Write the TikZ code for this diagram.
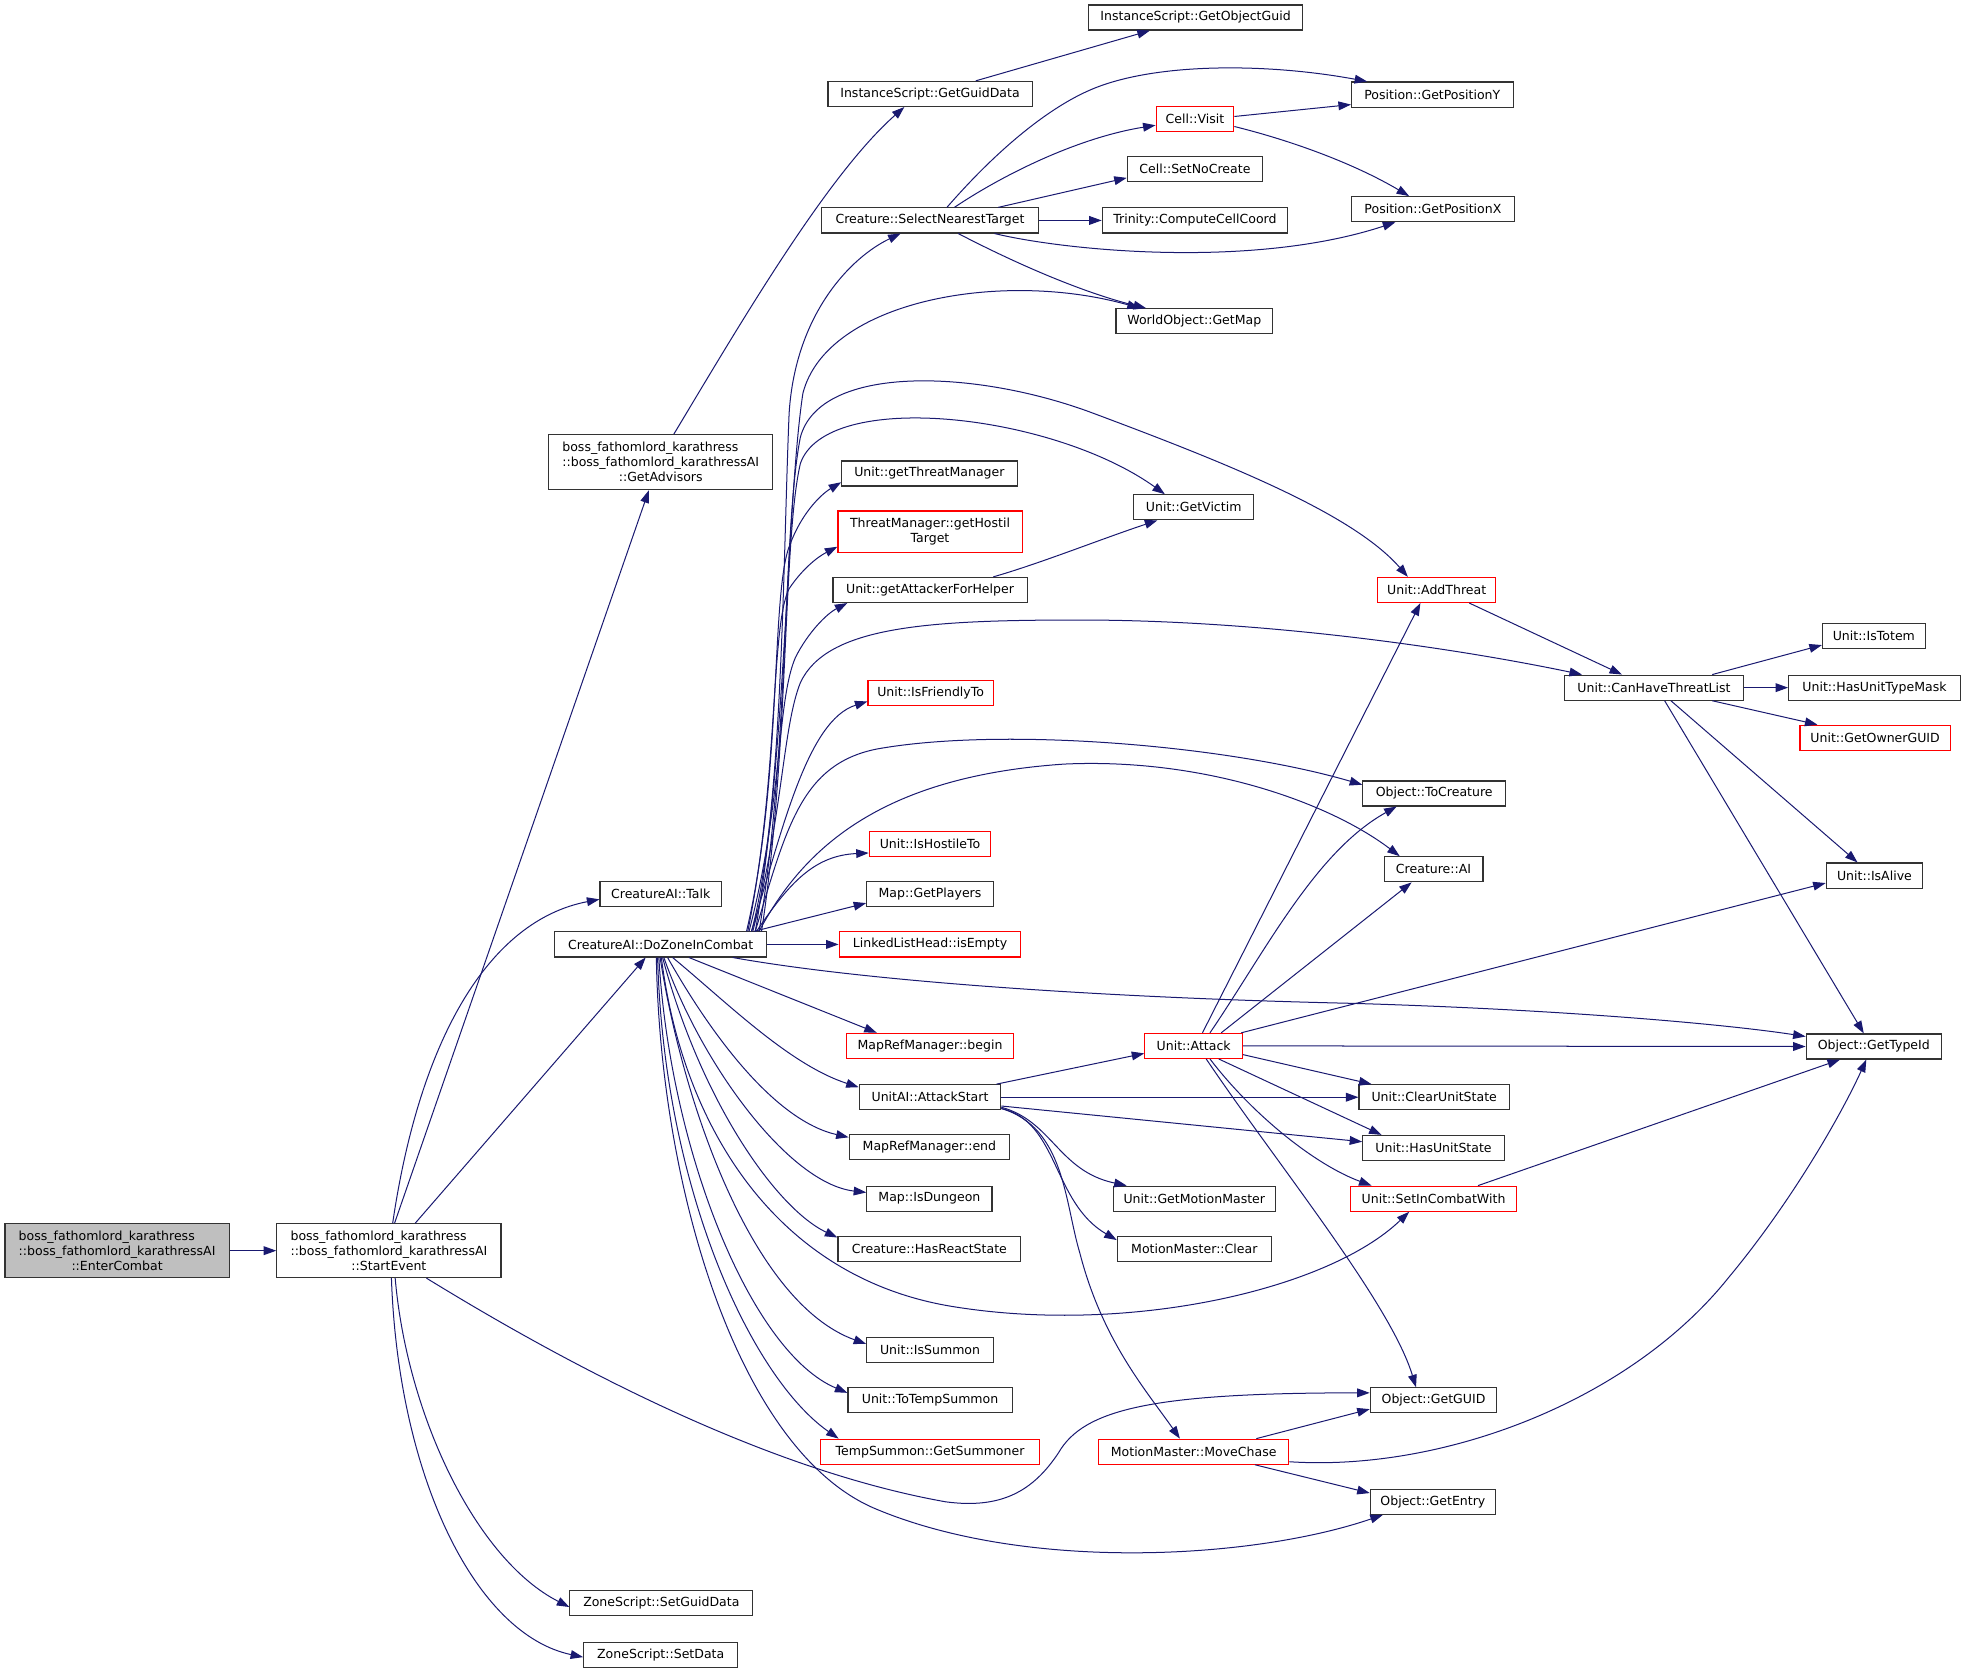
\documentclass[tikz,border=0pt]{standalone}
\usepackage{fontspec}
\setmainfont{DejaVu Sans}
\usetikzlibrary{arrows.meta}
\definecolor{edgec}{HTML}{191970}
\definecolor{redc}{HTML}{FF0000}
\definecolor{grayfill}{HTML}{BFBFBF}
\newcommand\bossfirst{\setbox0=\hbox{::boss\_fathomlord\_karathressAI}\makebox[\wd0][l]{boss\_fathomlord\_karathress}}
\tikzset{
  box/.style={draw=black!80, line width=0.9pt, fill=white, inner sep=0pt, minimum height=20pt, font=\fontsize{10}{12}\selectfont, align=center},
  redbox/.style={box, draw=redc},
  edge/.style={draw=edgec, line width=0.8pt, -{Triangle[length=10pt,width=7pt]}},
}
\begin{document}
\begin{tikzpicture}[x=1pt,y=-1pt]
\useasboundingbox (0,0) rectangle (1568,1337);
% column 1-2
\node[box,fill=grayfill,minimum width=179pt,minimum height=43pt] (ec) at (93.5,998.5) {\bossfirst\\::boss\_fathomlord\_karathressAI\\::EnterCombat};
\node[box,minimum width=179pt,minimum height=43pt] (se) at (310.5,998.5) {\bossfirst\\::boss\_fathomlord\_karathressAI\\::StartEvent};
\node[box,minimum width=179pt,minimum height=44pt] (ga) at (527.5,369) {\bossfirst\\::boss\_fathomlord\_karathressAI\\::GetAdvisors};
\node[box,minimum width=97pt] (talk) at (527.5,714) {CreatureAI::Talk};
\node[box,minimum width=169pt] (dz) at (527.5,754) {CreatureAI::DoZoneInCombat};
\node[box,minimum width=146pt] (zsg) at (528,1280) {ZoneScript::SetGuidData};
\node[box,minimum width=123pt] (zsd) at (527.5,1321) {ZoneScript::SetData};
% column 3
\node[box,minimum width=163pt] (igd) at (742.5,75) {InstanceScript::GetGuidData};
\node[box,minimum width=173pt] (snt) at (742.5,176) {Creature::SelectNearestTarget};
\node[box,minimum width=140pt] (gtm) at (742,378) {Unit::getThreatManager};
\node[redbox,minimum width=147pt,minimum height=33pt] (ght) at (742.5,424.5) {ThreatManager::getHostil\\Target};
\node[box,minimum width=155pt] (gafh) at (742.5,471) {Unit::getAttackerForHelper};
\node[redbox,minimum width=100pt] (ift) at (743,553) {Unit::IsFriendlyTo};
\node[redbox,minimum width=97pt] (iht) at (742.5,674) {Unit::IsHostileTo};
\node[box,minimum width=101pt] (gp) at (742.5,714) {Map::GetPlayers};
\node[redbox,minimum width=145pt] (lie) at (742.5,754) {LinkedListHead::isEmpty};
\node[redbox,minimum width=133pt] (mrb) at (742.5,835) {MapRefManager::begin};
\node[box,minimum width=113pt] (ats) at (742.5,876) {UnitAI::AttackStart};
\node[box,minimum width=128pt] (mre) at (742,916) {MapRefManager::end};
\node[box,minimum width=100pt] (idg) at (742,957) {Map::IsDungeon};
\node[box,minimum width=146pt] (hrs) at (742,997) {Creature::HasReactState};
\node[box,minimum width=101pt] (isu) at (742.5,1078) {Unit::IsSummon};
\node[box,minimum width=131pt] (tts) at (742.5,1118) {Unit::ToTempSummon};
\node[redbox,minimum width=175pt] (gsu) at (742.5,1159) {TempSummon::GetSummoner};
% column 4
\node[box,minimum width=171pt] (iog) at (954.5,14) {InstanceScript::GetObjectGuid};
\node[redbox,minimum width=62pt] (cv) at (954,95) {Cell::Visit};
\node[box,minimum width=108pt] (snc) at (954,135) {Cell::SetNoCreate};
\node[box,minimum width=148pt] (ccc) at (954,176) {Trinity::ComputeCellCoord};
\node[box,minimum width=125pt] (gm) at (953.5,256.5) {WorldObject::GetMap};
\node[box,minimum width=96pt] (gv) at (953,405) {Unit::GetVictim};
\node[redbox,minimum width=78pt] (att) at (953,835) {Unit::Attack};
\node[box,minimum width=129pt] (gmm) at (953.5,957) {Unit::GetMotionMaster};
\node[box,minimum width=123pt] (mmc) at (953.5,997) {MotionMaster::Clear};
\node[redbox,minimum width=152pt] (mch) at (953,1159) {MotionMaster::MoveChase};
% column 5
\node[box,minimum width=129pt] (gpy) at (1143.5,75.5) {Position::GetPositionY};
\node[box,minimum width=130pt] (gpx) at (1144,167) {Position::GetPositionX};
\node[redbox,minimum width=94pt] (adt) at (1147,471) {Unit::AddThreat};
\node[box,minimum width=114pt] (toc) at (1145,633.5) {Object::ToCreature};
\node[box,minimum width=79pt] (cai) at (1144.5,694) {Creature::AI};
\node[box,minimum width=120pt] (cus) at (1145,876) {Unit::ClearUnitState};
\node[box,minimum width=113pt] (hus) at (1144.5,916.5) {Unit::HasUnitState};
\node[redbox,minimum width=133pt] (icw) at (1144.5,957) {Unit::SetInCombatWith};
\node[box,minimum width=101pt] (gguid) at (1144.5,1118) {Object::GetGUID};
\node[box,minimum width=100pt] (gent) at (1144,1199) {Object::GetEntry};
% column 6-7
\node[box,minimum width=143pt] (chtl) at (1320.5,549) {Unit::CanHaveThreatList};
\node[box,minimum width=82pt] (ist) at (1496,508) {Unit::IsTotem};
\node[box,minimum width=137pt] (hutm) at (1496.5,549) {Unit::HasUnitTypeMask};
\node[redbox,minimum width=120pt] (gog) at (1497,589) {Unit::GetOwnerGUID};
\node[box,minimum width=77pt] (ial) at (1496.5,699) {Unit::IsAlive};
\node[box,minimum width=108pt] (gti) at (1496,835.5) {Object::GetTypeId};

% ---- edges ----
\draw[edge] (ec.east) -- (se.west);
\draw[edge] ([xshift=4.5pt]se.north) -- ([xshift=-9.5pt]ga.south);
\draw[edge] ([xshift=3pt]se.north) .. controls (335,830) and (390,735) .. ([yshift=-4pt]talk.west);
\draw[edge] ([xshift=21pt]se.north) -- ([xshift=-12pt]dz.south);
\draw[edge] ([xshift=5pt]se.south) .. controls (325,1130) and (380,1245) .. ([yshift=-3pt]zsg.west);
\draw[edge] ([xshift=2pt]se.south) .. controls (318,1180) and (380,1305) .. ([yshift=-2pt]zsd.west);
\draw[edge] ([xshift=30pt]se.south) .. controls (470,1100) and (620,1175) .. (755,1199) .. controls (800,1205) and (825,1190) .. (845,1160) .. controls (865,1125) and (920,1112) .. ([yshift=6pt]gguid.west);
\draw[edge] ([xshift=10.5pt]ga.north) .. controls (590,260) and (660,140) .. ([xshift=-20.5pt]igd.south);
\draw[edge] ([xshift=36.5pt]igd.north) -- ([xshift=-36.5pt]iog.south);
% SelectNearestTarget
\draw[edge] ([xshift=13.5pt]snt.north) .. controls (800,115) and (840,85) .. (870,72) .. controls (920,50) and (1010,50) .. ([xshift=-52pt]gpy.north);
\draw[edge] ([xshift=19.5pt]snt.north) .. controls (800,140) and (860,110) .. ([yshift=-5pt]cv.west);
\draw[edge] ([xshift=54.5pt]snt.north) -- ([yshift=-7pt]snc.west);
\draw[edge] (snt.east) -- (ccc.west);
\draw[edge] ([xshift=51.5pt]snt.south) .. controls (850,200) and (1000,215) .. ([xshift=-30pt]gpx.south);
\draw[edge] ([xshift=22.5pt]snt.south) .. controls (820,215) and (870,235) .. ([xshift=-38.5pt]gm.north);
\draw[edge] ([yshift=2pt]cv.east) -- ([yshift=-8pt]gpy.west);
\draw[edge] ([yshift=-6pt]cv.east) .. controls (1030,112) and (1080,130) .. ([xshift=-19pt]gpx.north);
% DoZoneInCombat upward
\draw[edge] ([xshift=72.5pt]dz.north) .. controls (625,650) and (625,450) .. (630,330) .. controls (635,250) and (680,205) .. ([xshift=-23.5pt]snt.south);
\draw[edge] ([xshift=75.5pt]dz.north) .. controls (628,600) and (628,400) .. (641,314) .. controls (660,240) and (800,215) .. ([xshift=-43.5pt]gm.north);
\draw[edge] ([xshift=78.5pt]dz.north) .. controls (630,600) and (625,420) .. (639,349) .. controls (655,290) and (780,295) .. (873,330) .. controls (980,370) and (1080,410) .. ([xshift=-23pt]adt.north);
\draw[edge] ([xshift=80.5pt]dz.north) .. controls (630,600) and (625,430) .. (639,370) .. controls (660,310) and (840,330) .. ([xshift=-23pt]gv.north);
\draw[edge] ([xshift=68.5pt]dz.north) .. controls (625,620) and (615,470) .. (631,434) .. controls (640,410) and (655,395) .. ([yshift=-7pt]gtm.west);
\draw[edge] ([xshift=69.5pt]dz.north) .. controls (622,620) and (615,500) .. (630,470) .. controls (640,455) and (652,445) .. ([yshift=-12pt]ght.west);
\draw[edge] ([xshift=70.5pt]dz.north) .. controls (625,640) and (620,560) .. (635,525) .. controls (645,505) and (660,490) .. ([xshift=-66pt]gafh.south);
\draw[edge] ([xshift=73.5pt]dz.north) .. controls (625,650) and (625,580) .. (639,545) .. controls (660,500) and (740,495) .. (862,495) .. controls (1000,495) and (1150,515) .. ([xshift=-57.5pt]chtl.north);
\draw[edge] ([xshift=72.5pt]dz.north) .. controls (625,660) and (645,575) .. ([yshift=-7pt]ift.west);
\draw[edge] ([xshift=75.5pt]dz.north) .. controls (628,660) and (640,610) .. (700,598) .. controls (800,580) and (980,595) .. ([yshift=7pt]toc.west);
\draw[edge] ([xshift=78.5pt]dz.north) .. controls (640,680) and (700,620) .. (850,610) .. controls (960,605) and (1060,640) .. ([xshift=-27pt]cai.north);
\draw[edge] ([xshift=76.5pt]dz.north) .. controls (630,705) and (650,683) .. ([yshift=-7pt]iht.west);
\draw[edge] ([xshift=74.5pt]dz.north) -- ([yshift=-7pt]gp.west);
\draw[edge] (dz.east) -- (lie.west);
% DoZoneInCombat downward
\draw[edge] ([xshift=57.5pt]dz.south) .. controls (700,785) and (900,797) .. (1078,801) .. controls (1250,806) and (1380,818) .. ([yshift=8pt]gti.west);
\draw[edge] ([xshift=22.5pt]dz.south) -- ([xshift=-42.5pt]mrb.north);
\draw[edge] ([xshift=9.5pt]dz.south) .. controls (580,800) and (630,850) .. ([yshift=8pt]ats.west);
\draw[edge] ([xshift=5.5pt]dz.south) .. controls (570,830) and (620,895) .. ([yshift=8pt]mre.west);
\draw[edge] ([xshift=2.5pt]dz.south) .. controls (560,850) and (630,945) .. ([yshift=5pt]idg.west);
\draw[edge] ([xshift=1.5pt]dz.south) .. controls (560,880) and (620,965) .. ([yshift=9pt]hrs.west);
\draw[edge] ([xshift=0.5pt]dz.south) .. controls (545,900) and (620,1020) .. (760,1043) .. controls (900,1066) and (1060,1030) .. ([xshift=-19.5pt]icw.south);
\draw[edge] ([xshift=-0.5pt]dz.south) .. controls (545,880) and (600,1040) .. ([yshift=5pt]isu.west);
\draw[edge] ([xshift=-1.5pt]dz.south) .. controls (535,920) and (600,1080) .. ([yshift=6pt]tts.west);
\draw[edge] ([xshift=-2.5pt]dz.south) .. controls (530,950) and (600,1100) .. ([xshift=-73pt]gsu.north);
\draw[edge] ([xshift=-3.5pt]dz.south) .. controls (527,950) and (590,1160) .. (700,1205) .. controls (820,1255) and (1000,1245) .. ([xshift=-40pt]gent.south);
% others
\draw[edge] ([xshift=50.5pt]gafh.north) .. controls (830,450) and (880,430) .. ([xshift=-29pt]gv.south);
\draw[edge] ([xshift=26pt]adt.south) -- ([xshift=-25.5pt]chtl.north);
\draw[edge] ([xshift=46.5pt]chtl.north) -- ([yshift=-7pt]ist.west);
\draw[edge] (chtl.east) -- (hutm.west);
\draw[edge] ([xshift=46.5pt]chtl.south) -- ([xshift=-46pt]gog.north);
\draw[edge] ([xshift=13.5pt]chtl.south) -- ([xshift=-13.5pt]ial.north);
\draw[edge] ([xshift=8.5pt]chtl.south) -- ([xshift=-8pt]gti.north);
% AttackStart
\draw[edge] ([xshift=53pt]ats.north) -- ([yshift=-6pt]att.west);
\draw[edge] (ats.east) -- (cus.west);
\draw[edge] ([yshift=-7pt]ats.east) -- ([yshift=5pt]hus.west);
\draw[edge] ([yshift=-8pt]ats.east) .. controls (840,895) and (845,935) .. ([xshift=-54pt]gmm.north);
\draw[edge] ([yshift=-9pt]ats.east) .. controls (845,895) and (840,960) .. ([yshift=7pt]mmc.west);
\draw[edge] ([yshift=-9pt]ats.east) .. controls (850,900) and (850,960) .. (862,1000) .. controls (880,1070) and (915,1110) .. ([xshift=-11pt]mch.north);
% Attack
\draw[edge] ([xshift=7pt]att.north) -- ([xshift=-13pt]adt.south);
\draw[edge] ([xshift=13pt]att.north) .. controls (1010,760) and (1050,680) .. ([xshift=-30pt]toc.south);
\draw[edge] ([xshift=22pt]att.north) -- ([xshift=-17.5pt]cai.south);
\draw[edge] ([xshift=38pt]att.north) -- ([yshift=-6pt]ial.west);
\draw[edge] (att.east) -- (gti.west);
\draw[edge] ([yshift=-7pt]att.east) -- ([xshift=-50pt]cus.north);
\draw[edge] ([xshift=20pt]att.south) -- ([xshift=-41.5pt]hus.north);
\draw[edge] ([xshift=13pt]att.south) .. controls (1000,890) and (1050,930) .. ([xshift=-49.5pt]icw.north);
\draw[edge] ([xshift=10pt]att.south) .. controls (1020,930) and (1110,1040) .. ([xshift=-14pt]gguid.north);
\draw[edge] ([xshift=35.5pt]icw.north) -- ([xshift=-27pt]gti.south);
% MoveChase
\draw[edge] ([xshift=50pt]mch.north) -- ([yshift=-7pt]gguid.west);
\draw[edge] ([xshift=49pt]mch.south) -- ([yshift=7pt]gent.west);
\draw[edge] ([yshift=-8pt]mch.east) .. controls (1150,1175) and (1300,1120) .. (1380,1020) .. controls (1430,960) and (1470,890) .. ([xshift=-6pt]gti.south);
\end{tikzpicture}
\end{document}
